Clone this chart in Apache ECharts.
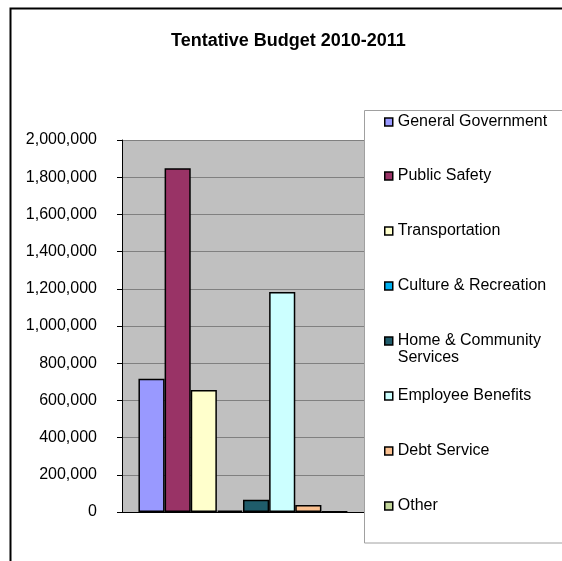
<!DOCTYPE html>
<html>
<head>
<meta charset="utf-8">
<title>Tentative Budget 2010-2011</title>
<script src="https://cdn.jsdelivr.net/npm/echarts@6/dist/echarts.min.js"></script>
<style>
  html, body { margin: 0; padding: 0; background: #ffffff; }
  #chart { width: 562px; height: 561px; }
</style>
</head>
<body>
<div id="chart"></div>
<script>
// Budget categories, amounts and fill colours
const categories = [
  'General Government',
  'Public Safety',
  'Transportation',
  'Culture & Recreation',
  'Home & Community Services',
  'Employee Benefits',
  'Debt Service',
  'Other'
];
const amounts = [717000, 1848000, 656000, 8000, 66000, 1183000, 37000, 1500];
const colors = ['#9999FF', '#993366', '#FFFFCC', '#00B0F0', '#1F5C6B', '#CCFFFF', '#FAC090', '#C3D69B'];
const yTickValues = [0, 200000, 400000, 600000, 800000, 1000000, 1200000, 1400000, 1600000, 1800000, 2000000];

// Vertical centre of each legend entry's swatch
const legendCenters = [122, 176, 231, 286, 341, 396, 451, 506];

const FONT = 'Liberation Sans, Arial, Helvetica, sans-serif';

const series = categories.map((name, i) => ({
  name: name,
  type: 'bar',
  data: [amounts[i]],
  barGap: '0%',
  barCategoryGap: '13.6%',
  itemStyle: { color: colors[i], borderColor: '#000000', borderWidth: 1.5 },
  emphasis: { disabled: true }
}));

// One legend block per entry so each can sit at its own height;
// the long name wraps onto a second line, with the first line beside the swatch.
const legends = categories.map((name, i) => {
  const wrapped = name === 'Home & Community Services';
  return {
    data: [name],
    orient: 'vertical',
    left: 384,
    top: wrapped ? legendCenters[i] - 25.5 : legendCenters[i] - 9,
    padding: 0,
    icon: 'rect',
    itemWidth: 8,
    itemHeight: 8,
    selectedMode: false,
    itemStyle: { borderColor: '#000000', borderWidth: 1.5 },
    formatter: wrapped ? ' \nHome & Community\nServices' : '{name}',
    textStyle: wrapped
      ? { fontFamily: FONT, fontSize: 16, color: '#000000', lineHeight: 17 }
      : { fontFamily: FONT, fontSize: 16, color: '#000000', lineHeight: 18 },
    z: 10
  };
});

const chart = echarts.init(document.getElementById('chart'), null, { renderer: 'canvas' });

chart.setOption({
  animation: false,
  backgroundColor: '#ffffff',
  title: {
    text: 'Tentative Budget 2010-2011',
    left: 171,
    top: 32,
    padding: 0,
    textStyle: { fontFamily: FONT, fontSize: 18, fontWeight: 'bold', color: '#000000' }
  },
  graphic: [
    {
      type: 'rect',
      z: -10,
      silent: true,
      shape: { x: 10.5, y: 8.5, width: 700, height: 700 },
      style: { fill: '#ffffff', stroke: '#000000', lineWidth: 2 }
    },
    {
      type: 'rect',
      z: 5,
      silent: true,
      shape: { x: 364.5, y: 110.5, width: 300, height: 432.5 },
      style: { fill: '#ffffff', stroke: '#A0A0A0', lineWidth: 1 }
    }
  ],
  legend: legends,
  grid: {
    left: 122,
    top: 140,
    width: 242,
    height: 372,
    show: true,
    backgroundColor: '#C0C0C0',
    borderWidth: 0,
    containLabel: false
  },
  xAxis: {
    type: 'category',
    data: [''],
    axisLine: { show: true, lineStyle: { color: '#000000', width: 1 } },
    axisTick: { show: false },
    axisLabel: { show: false },
    splitLine: { show: false }
  },
  yAxis: {
    type: 'value',
    min: yTickValues[0],
    max: yTickValues[yTickValues.length - 1],
    interval: yTickValues[1] - yTickValues[0],
    axisLine: { show: true, lineStyle: { color: '#000000', width: 1 } },
    axisTick: { show: true, length: 5, lineStyle: { color: '#000000' } },
    axisLabel: {
      margin: 25,
      fontFamily: FONT,
      fontSize: 16,
      color: '#000000',
      formatter: (v) => v.toLocaleString('en-US')
    },
    splitLine: { show: true, lineStyle: { color: '#808080', width: 1 } }
  },
  series: series
});
</script>
</body>
</html>
